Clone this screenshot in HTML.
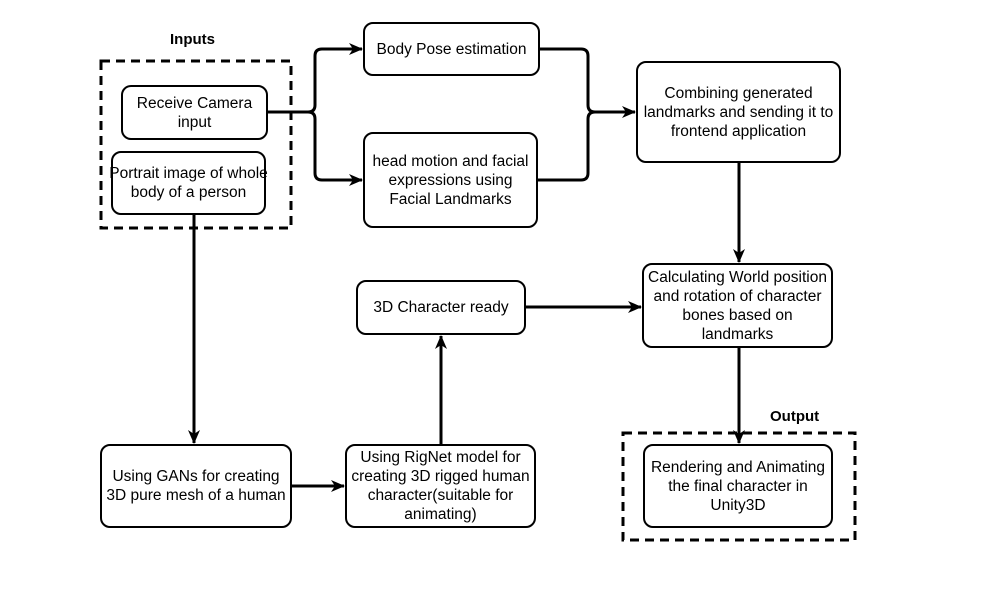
<!DOCTYPE html><html><head><style>
body{margin:0;background:#fff}
.b{position:absolute;border:2.5px solid #000;border-radius:10px;box-sizing:border-box;display:flex;align-items:center;justify-content:center;text-align:center;font:15.5px/19px "Liberation Sans",sans-serif;background:#fff;white-space:nowrap}
.l{position:absolute;font:bold 15px "Liberation Sans",sans-serif}
</style></head><body>
<div style="position:relative;width:989px;height:591px;overflow:hidden">
<svg width="989" height="591" style="position:absolute;left:0;top:0">
<defs><marker id="a" markerWidth="14" markerHeight="14" refX="13" refY="7" orient="auto" markerUnits="userSpaceOnUse"><path d="M0,1 L14,7 L0,13 L4,7z" fill="#000"/></marker></defs>
<g fill="none" stroke="#000" stroke-width="3">
<rect x="101" y="61" width="190" height="167" stroke-dasharray="9,6"/>
<rect x="623" y="433" width="232" height="107" stroke-dasharray="9,6"/>
<path d="M268,112 H308 Q315,112 315,105 V56 Q315,49 322,49 H362" marker-end="url(#a)"/>
<path d="M308,112 Q315,112 315,119 V173 Q315,180 322,180 H362" marker-end="url(#a)"/>
<path d="M540,49 H581 Q588,49 588,56 V105 Q588,112 595,112 H635" marker-end="url(#a)"/>
<path d="M538,180 H581 Q588,180 588,173 V119 Q588,112 595,112"/>
<path d="M194,215 V443" marker-end="url(#a)"/>
<path d="M292,486 H344" marker-end="url(#a)"/>
<path d="M441,444 V336" marker-end="url(#a)"/>
<path d="M526,307 H641" marker-end="url(#a)"/>
<path d="M739,163 V262" marker-end="url(#a)"/>
<path d="M739,348 V443" marker-end="url(#a)"/>
</g></svg>
<div class="l" style="left:170px;top:31px">Inputs</div>
<div class="l" style="left:770px;top:408px">Output</div>
<div class="b" style="left:121px;top:85px;width:147px;height:55px">Receive Camera<br>input</div>
<div class="b" style="left:111px;top:151px;width:155px;height:64px">Portrait image of whole<br>body of a person</div>
<div class="b" style="left:363px;top:22px;width:177px;height:54px">Body Pose estimation</div>
<div class="b" style="left:363px;top:132px;width:175px;height:96px">head motion and facial<br>expressions using<br>Facial Landmarks</div>
<div class="b" style="left:636px;top:61px;width:205px;height:102px">Combining generated<br>landmarks and sending it to<br>frontend application</div>
<div class="b" style="left:642px;top:263px;width:191px;height:85px">Calculating World position<br>and rotation of character<br>bones based on<br>landmarks</div>
<div class="b" style="left:356px;top:280px;width:170px;height:55px">3D Character ready</div>
<div class="b" style="left:100px;top:444px;width:192px;height:84px">Using GANs for creating<br>3D pure mesh of a human</div>
<div class="b" style="left:345px;top:444px;width:191px;height:84px">Using RigNet model for<br>creating 3D rigged human<br>character(suitable for<br>animating)</div>
<div class="b" style="left:643px;top:444px;width:190px;height:84px">Rendering and Animating<br>the final character in<br>Unity3D</div>
</div></body></html>
